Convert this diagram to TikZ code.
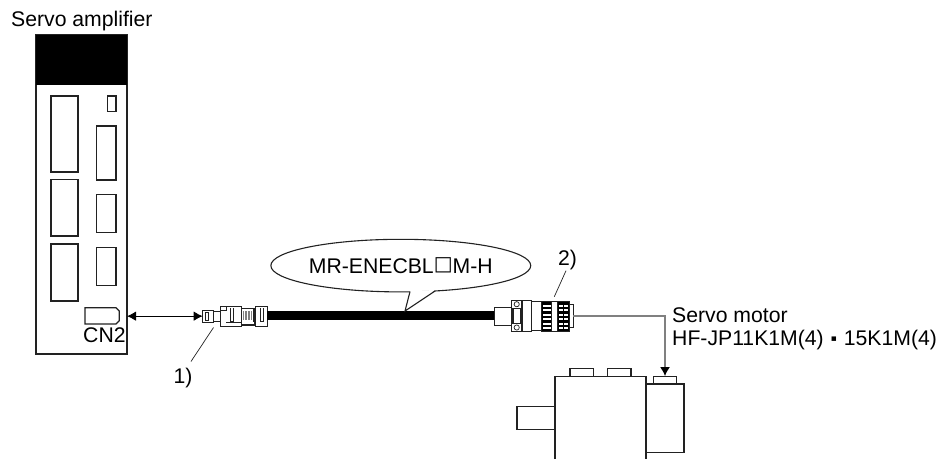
\documentclass[tikz,border=0pt]{standalone}
\usepackage{fontspec}
\setmainfont{Liberation Sans}
\newfontfamily\servosym{DejaVu Sans}
\usetikzlibrary{arrows.meta,positioning,shapes.geometric}
\definecolor{ServoLine}{HTML}{222222}
\definecolor{ServoLead}{HTML}{808080}
\tikzset{
  servobox/.style={
    draw=ServoLine,
    fill=white,
    line width=1.4pt,
    inner sep=0pt,
    outer sep=0pt,
    anchor=north west
  },
  servopart/.style={
    draw=ServoLine,
    fill=white,
    line width=1pt,
    inner sep=0pt,
    outer sep=0pt,
    anchor=north west
  },
  servotext/.style={
    inner sep=0pt,
    anchor=base west,
    font=\fontsize{21.2}{24}\selectfont,
    text=black
  },
  servoflow/.style={{Latex[length=9pt,width=9.5pt]}-{Latex[length=9pt,width=9.5pt]},draw=black,line width=0.9pt},
  servolead/.style={-{Latex[length=9pt,width=10pt,color=black]},draw=ServoLead,line width=1.3pt},
  servothin/.style={draw=ServoLine,line width=0.7pt}
}
\begin{document}
\begin{tikzpicture}[x=1pt,y=-1pt]
  \useasboundingbox (0,0) rectangle (947,459);
  \node[servotext] (ampname) at (11,26) {Servo amplifier};
  \node[servobox,minimum width=91pt,minimum height=319pt] (amp) at (36,35) {};
  \fill[black] (amp.north west) rectangle (127,85);
  \foreach \x/\y/\w/\h in {51/96/27/76,51/179.5/27/56.5,51/244/27/57,107.5/96/8.5/15.5,96.5/126/19.5/54,96.5/194.5/19.5/38,96.5/247.3/19.5/38.4}
    \draw[servothin,line width=1.2pt] (\x,\y) rectangle ++(\w,\h);
  \draw[servothin,line width=1.2pt] (85,307.7) -- (116,307.7) -- (119.3,311) -- (119.3,320.7) -- (116,324) -- (85,324) -- cycle;
  \node[servotext] (cn2) at (83,342.7) {CN2};

  \node[servopart,minimum width=10.3pt,minimum height=12.3pt] (plugtip) at (202.7,310) {};
  \node[servopart,minimum width=7pt,minimum height=10.3pt,anchor=west,right=0pt of plugtip,yshift=-0.4pt] (plugneck) {};
  \node[servopart,minimum width=21.7pt,minimum height=20pt,anchor=west,right=0pt of plugneck] (plugbody) {};
  \node[servopart,minimum width=13.3pt,minimum height=16.6pt,anchor=west,right=0pt of plugbody,line width=1.4pt] (plugmid) {};
  \node[servopart,minimum width=12.3pt,minimum height=20pt,anchor=west,right=0pt of plugmid] (plugrear) {};
  \foreach \x in {243.5,245,246.5,248,249.5,251}
    \draw[ServoLead,line width=0.6pt] (\x,311) -- (\x,320);
  \draw[servothin,line width=1.2pt] (253.5,309) -- (253.5,322);
  \draw[servothin] (205.5,312.5) rectangle (208.5,320);
  \draw[servothin] (230,308) -- (230,321.5) -- (233.3,321.5) -- (233.3,308);
  \draw[servothin] (260,308) -- (260,321.5) -- (263.3,321.5) -- (263.3,308);
  \draw[servothin] (220,310) -- (226,310) -- (226,306);
  \draw[servothin] (226,322) -- (241.7,322);
  \draw[servoflow] (amp.east |- plugtip.west) -- (plugtip.west);

  \node[servopart,minimum width=17.7pt,minimum height=17.7pt] (backshell) at (494,307.3) {};
  \fill[black] (plugrear.east |- 0,311.2) rectangle (backshell.west |- 0,320.2);
  \node[servopart,minimum width=10pt,minimum height=31.7pt] (flange) at (511.7,300) {};
  \foreach \y in {304.2,327.5}
    \draw[servothin] (516.7,\y) circle (2.6pt);
  \draw[servothin] (flange.west |- 0,308.3) -- (flange.east |- 0,308.3);
  \draw[servothin] (flange.west |- 0,323.3) -- (flange.east |- 0,323.3);
  \draw[servothin,line width=1.2pt] (513,308.3) -- (513,323.3);
  \draw[servothin,line width=1.2pt] (520.5,308.3) -- (520.5,323.3);
  \node[servopart,minimum width=9.4pt,minimum height=31.7pt] (ring) at (522.3,300) {};
  \node[servopart,minimum width=10pt,minimum height=28.3pt] (barrel) at (531.7,301.7) {};
  \node[servopart,minimum width=10pt,minimum height=30pt,fill=black] (knurlA) at (541.7,301) {};
  \node[servopart,minimum width=5.6pt,minimum height=30pt] (ringB) at (551.7,301) {};
  \node[servopart,minimum width=12pt,minimum height=30.7pt,fill=black] (knurlB) at (557.3,301) {};
  \foreach \y in {304.5,309,313.5,318,322.5,327}{
    \fill[white] (543,\y) rectangle (550.5,\y+2.4);
    \fill[white] (558.5,\y) rectangle (562.5,\y+2.4);
    \fill[white] (564,\y) rectangle (568,\y+2.4);
  }
  \node[servopart,minimum width=4pt,minimum height=23.4pt] (plugend) at (569.3,304.3) {};

  \node[servopart,minimum width=23.4pt,minimum height=8pt] (terminal) at (653.3,376) {};
  \draw[servolead] (plugend.east) -| (terminal.north);

  \node[draw=ServoLine,fill=white,line width=1.1pt,ellipse,inner sep=0pt,minimum width=255pt,minimum height=52.6pt,font=\fontsize{21.2}{24}\selectfont] (balloon) at (400.8,265.6) {MR-ENECBL\raisebox{2.5pt}{\fontsize{20}{20}\servosym □}M-H};
  \coordinate (tailtip) at (405,311);
  \fill[white] (410,291) -- (tailtip) -- (435,290) -- cycle;
  \draw[draw=ServoLine,line width=1.1pt] (410,291.6) -- (tailtip) -- (435,291);

  \node[servotext] (plugone) at (173.3,383) {1)};
  \coordinate (plugonelead) at (213.5,327.5);
  \draw[servothin] (191,361.5) -- (plugonelead);
  \node[servotext] (plugtwo) at (558,265) {2)};
  \coordinate (plugtwolead) at (554.3,296.7);
  \draw[servothin] (566,270.7) -- (plugtwolead);

  \node[servotext] (motorname) at (672,322.3) {Servo motor};
  \node[servotext] (motortype) at (672,345) {HF-JP11K1M(4)\kern7pt\raisebox{4pt}{\fontsize{9}{9}\servosym ▪}\kern7pt15K1M(4)};

  \draw[servobox] (555,459) -- (555,376.3) -- (646,376.3) -- (646,459);
  \node[servobox,minimum width=23.3pt,minimum height=8pt] (fanA) at (570,368.3) {};
  \node[servobox,minimum width=23.3pt,minimum height=8pt] (fanB) at (607.7,368.3) {};
  \node[servobox,minimum width=38pt,minimum height=22.6pt] (shaft) at (517,406.7) {};
  \node[servobox,minimum width=37.4pt,minimum height=68.7pt] (motorbox) at (646.7,384) {};
\end{tikzpicture}
\end{document}
